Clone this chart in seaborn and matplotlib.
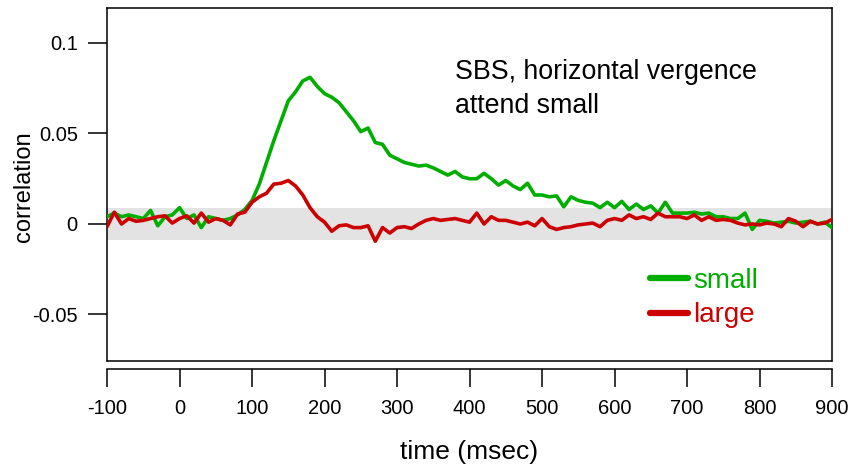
import numpy as np
import pandas as pd
import matplotlib
matplotlib.use("Agg")
import matplotlib.pyplot as plt
from matplotlib.lines import Line2D
import seaborn as sns

# time axis (msec), one sample every 10 ms
time_ms = list(range(-100, 901, 10))

corr_small = [
    0.004, 0.006, 0.004, 0.005, 0.004, 0.003, 0.0075, -0.001, 0.004, 0.005,
    0.009, 0.003, 0.005, -0.002, 0.004, 0.003, 0.002, 0.003, 0.005, 0.008,
    0.013, 0.022, 0.034, 0.046, 0.057, 0.068, 0.073, 0.079, 0.081, 0.076,
    0.072, 0.070, 0.067, 0.062, 0.057, 0.051, 0.053, 0.045, 0.044, 0.038,
    0.036, 0.034, 0.033, 0.032, 0.0325, 0.031, 0.029, 0.027, 0.029, 0.026,
    0.025, 0.025, 0.028, 0.025, 0.0215, 0.024, 0.021, 0.019, 0.0225, 0.016,
    0.016, 0.015, 0.0155, 0.0095, 0.015, 0.013, 0.012, 0.0115, 0.009, 0.012,
    0.009, 0.0125, 0.008, 0.011, 0.008, 0.010, 0.006, 0.012, 0.006, 0.006,
    0.006, 0.0065, 0.0055, 0.006, 0.004, 0.004, 0.003, 0.003, 0.006, -0.003,
    0.002, 0.0015, 0.0005, 0.001, 0.0015, 0.0005, 0.001, 0.0015, 0.0, 0.001,
    -0.002,
]

corr_large = [
    -0.0015, 0.0065, 0.0, 0.003, 0.0015, 0.002, 0.003, 0.004, 0.0045, 0.0005,
    0.003, 0.0045, 0.0005, 0.006, 0.001, 0.003, 0.002, -0.0005, 0.0055, 0.0065,
    0.012, 0.015, 0.017, 0.022, 0.0225, 0.024, 0.021, 0.016, 0.009, 0.004,
    0.001, -0.004, -0.001, -0.0005, -0.002, -0.002, -0.001, -0.0095, -0.002, -0.005,
    -0.002, -0.0015, -0.0025, 0.0, 0.002, 0.003, 0.002, 0.0025, 0.003, 0.002,
    0.001, 0.006, 0.0, 0.004, 0.002, 0.002, 0.001, 0.0, 0.001, -0.001,
    0.003, -0.0015, -0.003, -0.002, -0.0015, -0.0005, 0.0, 0.0005, -0.0015, 0.002,
    0.003, 0.002, 0.005, 0.003, 0.004, 0.0025, 0.006, 0.004, 0.004, 0.004,
    0.003, 0.005, 0.002, 0.004, 0.002, 0.0025, 0.002, 0.0005, -0.0005, 0.0,
    -0.0005, 0.0005, 0.0, -0.0015, 0.003, 0.0015, -0.0015, 0.0015, 0.0, 0.0005,
    0.0025,
]

x_ticks = [-100, 0, 100, 200, 300, 400, 500, 600, 700, 800, 900]
y_ticks = [-0.05, 0, 0.05, 0.1]
y_tick_labels = ["-0.05", "0", "0.05", "0.1"]
band = 0.009  # grey significance band (+/-)

GREEN = "#00AE00"
RED = "#CC0000"

sns.set_style("white")
plt.rcParams["font.family"] = ["Liberation Sans", "DejaVu Sans"]
plt.rcParams["axes.unicode_minus"] = False
plt.rcParams["text.color"] = "black"
plt.rcParams["axes.labelcolor"] = "black"

fig = plt.figure(figsize=(8.59, 4.71), dpi=100)
ax = fig.add_axes([0.1246, 0.2335, 0.844, 0.7495])

ax.axhspan(-band, band, color="#E3E3E3", lw=0, zorder=0)

df = pd.DataFrame({"time": time_ms, "small": corr_small, "large": corr_large})
sns.lineplot(data=df, x="time", y="small", color=GREEN, lw=2.6, label="small", ax=ax, zorder=3)
sns.lineplot(data=df, x="time", y="large", color=RED, lw=2.6, label="large", ax=ax, zorder=4)

ax.set_xlim(-100, 900)
ax.set_ylim(-0.0757, 0.1193)
ax.set_xticks(x_ticks)
ax.set_yticks(y_ticks)
ax.set_yticklabels(y_tick_labels)

for s in ax.spines.values():
    s.set_visible(True)
    s.set_color("black")
    s.set_linewidth(1.1)
ax.spines["bottom"].set_position(("outward", 6))
# closing line of the frame (bottom spine is detached)
ax.add_line(Line2D([0, 1], [0, 0], transform=ax.transAxes, color="black",
                   lw=1.1, clip_on=False))

ax.tick_params(axis="both", direction="out", color="black", width=1.1,
               labelsize=14.5, labelcolor="black", bottom=True, left=True)
ax.tick_params(axis="x", length=13, pad=8)
ax.tick_params(axis="y", length=14, pad=7)

ax.set_xlabel("time (msec)", fontsize=19)
ax.set_ylabel("correlation", fontsize=17)
ax.xaxis.set_label_coords(0.5, -0.225)
ax.yaxis.set_label_coords(-0.1, 0.493)

ax.text(0.48, 0.799, "SBS, horizontal vergence", transform=ax.transAxes,
        fontsize=19.3, va="baseline", ha="left")
ax.text(0.48, 0.703, "attend small", transform=ax.transAxes,
        fontsize=19.3, va="baseline", ha="left")

leg = ax.legend(loc="center left", bbox_to_anchor=(0.749, 0.178), frameon=False,
                fontsize=20, handlelength=1.35, handletextpad=0.2,
                labelspacing=0.3, borderpad=0, borderaxespad=0,
                labelcolor="linecolor")
for ln in leg.get_lines():
    ln.set_linewidth(4.5)

fig.savefig("out.png", dpi=100)
